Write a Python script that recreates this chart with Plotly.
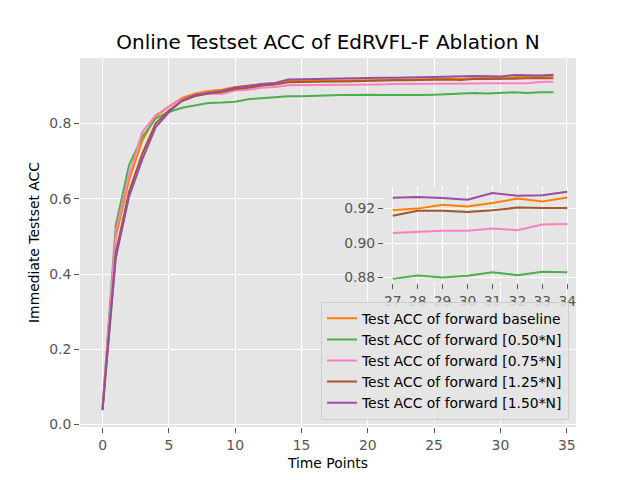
import plotly.graph_objects as go

time_points = list(range(35))

acc_baseline = [0.040, 0.500, 0.650, 0.755, 0.818, 0.845, 0.868, 0.880, 0.887, 0.890,
                0.897, 0.900, 0.904, 0.907, 0.913, 0.913, 0.914, 0.914, 0.914, 0.915,
                0.915, 0.916, 0.917, 0.917, 0.918, 0.919, 0.919, 0.9192, 0.9200, 0.9223,
                0.9213, 0.9233, 0.9258, 0.9242, 0.9265]
acc_050 = [0.045, 0.530, 0.690, 0.765, 0.813, 0.831, 0.842, 0.849, 0.855, 0.856,
           0.858, 0.865, 0.868, 0.871, 0.873, 0.873, 0.874, 0.876, 0.876, 0.876,
           0.877, 0.876, 0.876, 0.875, 0.876, 0.877, 0.878, 0.8792, 0.8812, 0.8800,
           0.8810, 0.8831, 0.8813, 0.8833, 0.8831]
acc_075 = [0.040, 0.513, 0.663, 0.778, 0.822, 0.845, 0.864, 0.874, 0.880, 0.879,
           0.888, 0.890, 0.895, 0.897, 0.902, 0.902, 0.903, 0.903, 0.904, 0.904,
           0.904, 0.904, 0.905, 0.905, 0.906, 0.906, 0.906, 0.9058, 0.9065, 0.9071,
           0.9071, 0.9085, 0.9075, 0.9108, 0.9110]
acc_125 = [0.040, 0.456, 0.619, 0.720, 0.800, 0.835, 0.860, 0.873, 0.880, 0.884,
           0.892, 0.895, 0.901, 0.904, 0.910, 0.911, 0.912, 0.912, 0.912, 0.913,
           0.913, 0.914, 0.915, 0.915, 0.916, 0.917, 0.917, 0.9158, 0.9187, 0.9187,
           0.9181, 0.9190, 0.9206, 0.9204, 0.9204]
acc_150 = [0.038, 0.443, 0.606, 0.705, 0.790, 0.830, 0.862, 0.876, 0.882, 0.887,
           0.896, 0.901, 0.905, 0.908, 0.917, 0.918, 0.919, 0.920, 0.919, 0.920,
           0.921, 0.922, 0.922, 0.922, 0.923, 0.924, 0.925, 0.9263, 0.9267, 0.9262,
           0.9252, 0.9290, 0.9275, 0.9277, 0.9298]

series_names = ["Test ACC of forward baseline", "Test ACC of forward [0.50*N]",
                "Test ACC of forward [0.75*N]", "Test ACC of forward [1.25*N]",
                "Test ACC of forward [1.50*N]"]
series_values = [acc_baseline, acc_050, acc_075, acc_125, acc_150]
series_colors = ["#ff7f00", "#4daf4a", "#f781bf", "#a65628", "#984ea3"]

inset_start = 27
main_xticks = [0, 5, 10, 15, 20, 25, 30, 35]
main_yticks = [0.0, 0.2, 0.4, 0.6, 0.8]
inset_xticks = list(range(27, 35))
inset_yticks = [0.88, 0.90, 0.92]

FONT = "DejaVu Sans"
GRAY = "#555555"
BG = "#E5E5E5"

fig = go.Figure()
for name, vals, col in zip(series_names, series_values, series_colors):
    fig.add_trace(go.Scatter(x=time_points, y=vals, mode="lines", name=name,
                             line=dict(color=col, width=2), xaxis="x", yaxis="y"))
for name, vals, col in zip(series_names, series_values, series_colors):
    fig.add_trace(go.Scatter(x=time_points[inset_start:], y=vals[inset_start:], mode="lines",
                             name=name, showlegend=False,
                             line=dict(color=col, width=2), xaxis="x2", yaxis="y2"))

def padded(lo, hi):
    m = (hi - lo) * 0.05
    return [lo - m, hi + m]

all_vals = [v for s in series_values for v in s]
inset_vals = [v for s in series_values for v in s[inset_start:]]
main_xr = padded(min(time_points), max(time_points))
main_yr = padded(min(all_vals), max(all_vals))
ins_xr = padded(time_points[inset_start], max(time_points))
ins_yr = padded(min(inset_vals), max(inset_vals))

W, H = 640, 480
L, R, T, B = 80, 64, 57.6, 52.8
pw, ph = W - L - R, H - T - B
ins_dx = [(384 - L) / pw, 1.0]
ins_dy = [(H - B - 283.2) / ph, (H - B - 187.2) / ph]

axis_common = dict(showgrid=True, gridcolor="white", gridwidth=1, zeroline=False,
                   showline=False, ticks="outside", ticklen=5, tickwidth=1,
                   tickcolor=GRAY, tickfont=dict(family=FONT, size=13.9, color=GRAY))

fig.update_layout(
    width=W, height=H,
    margin=dict(l=L, r=R, t=T, b=B, pad=0),
    paper_bgcolor="white", plot_bgcolor=BG,
    font=dict(family=FONT, size=13.9, color="black"),
    title=dict(text="Online Testset ACC of EdRVFL-F Ablation N", x=0.5, xref="paper",
               xanchor="center", y=1 - 42 / H, yanchor="middle",
               font=dict(family=FONT, size=20, color="black")),
    xaxis=dict(range=main_xr, tickvals=main_xticks, domain=[0, 1],
               title=dict(text="Time Points", font=dict(family=FONT, size=13.9, color="black"), standoff=6),
               anchor="y", **axis_common),
    yaxis=dict(range=main_yr, tickvals=main_yticks, tickformat=".1f", domain=[0, 1],
               title=dict(text="Immediate Testset ACC", font=dict(family=FONT, size=13.9, color="black"), standoff=6),
               anchor="x", **axis_common),
    xaxis2=dict(range=ins_xr, tickvals=inset_xticks, domain=ins_dx, anchor="y2", **axis_common),
    yaxis2=dict(range=ins_yr, tickvals=inset_yticks, tickformat=".2f", domain=ins_dy,
                anchor="x2", **axis_common),
    legend=dict(x=(569 - L) / pw, y=(H - B - 420) / ph, xanchor="right", yanchor="bottom",
                bgcolor="rgba(229,229,229,0.85)", bordercolor="#CCCCCC", borderwidth=1,
                font=dict(family=FONT, size=13.9, color="black"), itemwidth=30),
    showlegend=True,
)

fig.write_html("out.html", config={"displayModeBar": False},
               post_script="document.body.style.margin='0';")
